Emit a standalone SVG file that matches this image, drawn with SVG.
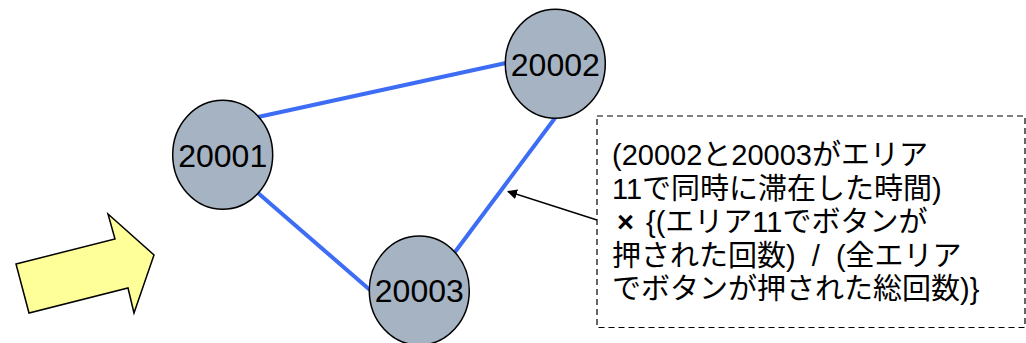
<svg xmlns="http://www.w3.org/2000/svg" width="1026" height="343" viewBox="0 0 1026 343">
<style>
.node ellipse{fill:#a6b3c2;stroke:#000;stroke-width:1.5}
.node text{font-family:"Liberation Sans",Arial,sans-serif;font-size:32px;fill:#000;text-anchor:middle}
.edge{stroke:#3d6cf5;stroke-width:4;fill:none}
.note text{font-family:"Liberation Sans","Noto Sans CJK JP",sans-serif;font-size:29px;fill:#000;white-space:pre}
</style>
<defs>
<marker id="ah" viewBox="0 0 10 10" refX="9" refY="5" markerWidth="10" markerHeight="10" markerUnits="userSpaceOnUse" orient="auto">
<path d="M0,0 L10,5 L0,10 z" fill="#000"/>
</marker>
</defs>
<g id="bigarrow">
<polygon points="16,264 115,239 108,214 154,255 134,313 128,288 29,313" fill="#ffff99" stroke="#000" stroke-width="1.5" stroke-linejoin="miter"/>
</g>
<g id="connectors">
<line class="edge" x1="258" y1="117" x2="506" y2="63"/>
<line class="edge" x1="258" y1="193" x2="370" y2="290"/>
<line class="edge" x1="555" y1="118" x2="455" y2="252"/>
<line x1="597" y1="220" x2="508" y2="191.5" stroke="#000" stroke-width="1.5" marker-end="url(#ah)"/>
</g>
<g id="n20001" class="node">
<ellipse cx="222.7" cy="154.7" rx="50" ry="54.5"/>
<text x="222.7" y="166.5">20001</text>
</g>
<g id="n20002" class="node">
<ellipse cx="555.3" cy="63.8" rx="50" ry="54.5"/>
<text x="555.3" y="76">20002</text>
</g>
<g id="n20003" class="node">
<ellipse cx="419.3" cy="290.5" rx="50" ry="54.5"/>
<text x="419.3" y="301.5">20003</text>
</g>
<g id="note" class="note">
<rect x="597" y="116" width="428" height="211.5" fill="none" stroke="#000" stroke-width="1.2" stroke-dasharray="6,4"/>
<text x="612" y="165">(20002と20003がエリア</text>
<text x="612" y="198.5">11で同時に滞在した時間)</text>
<text x="617" y="232" font-weight="bold">×</text>
<text x="646" y="232">{(エリア11でボタンが</text>
<text x="612" y="265.5">押された回数)  /  (全エリア</text>
<text x="612" y="299">でボタンが押された総回数)}</text>
</g>
</svg>
